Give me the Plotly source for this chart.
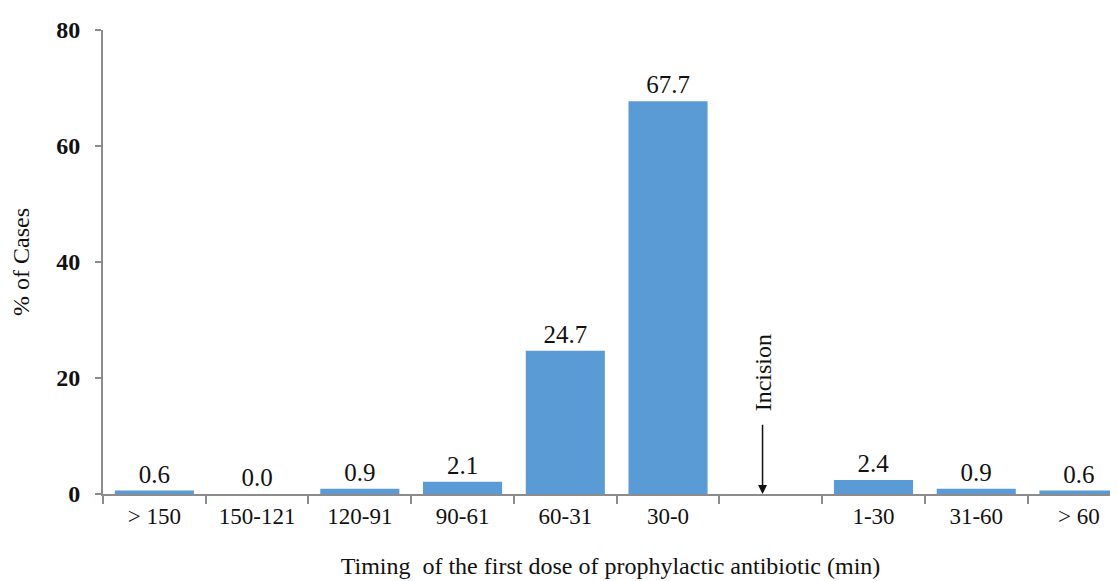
import plotly.graph_objects as go

categories = ["> 150", "150-121", "120-91", "90-61", "60-31", "30-0", " ", "1-30", "31-60", "> 60"]
values = [0.6, 0.0, 0.9, 2.1, 24.7, 67.7, None, 2.4, 0.9, 0.6]
labels = ["" if v is None else f"{v:.1f}" for v in values]
y_ticks = [0, 20, 40, 60, 80]

FONT = "Liberation Serif, Times New Roman, serif"
AXIS = "#8c8c8c"

fig = go.Figure()
fig.add_trace(go.Bar(
    x=categories, y=values, text=labels, textposition="outside",
    textfont=dict(family=FONT, size=25, color="#111"),
    marker=dict(color="#5B9BD5", line=dict(width=0)),
    width=0.77, cliponaxis=False,
))

fig.add_annotation(
    x=5.92, y=0, ax=5.92, ay=12.2, xref="x", yref="y", axref="x", ayref="y",
    showarrow=True, arrowhead=2, arrowsize=1.2, arrowwidth=1.5, arrowcolor="#111", text="",
)
fig.add_annotation(
    x=5.92, y=20.9, xref="x", yref="y", text="Incision", textangle=-90,
    showarrow=False, font=dict(family=FONT, size=24, color="#111"),
)

fig.update_layout(
    width=1110, height=573,
    margin=dict(l=95, r=0, t=22, b=87),
    paper_bgcolor="white", plot_bgcolor="white",
    showlegend=False,
    font=dict(family=FONT, color="#111"),
)
fig.update_xaxes(
    type="category", categoryorder="array", categoryarray=categories,
    range=[-0.5, 9.38], tickson="boundaries",
    showline=True, linecolor=AXIS, linewidth=2,
    ticks="outside", ticklen=8, tickwidth=2, tickcolor=AXIS,
    tickfont=dict(family=FONT, size=23, color="#111"),
    showgrid=False,
    title=dict(text="Timing  of the first dose of prophylactic antibiotic (min)",
               font=dict(family=FONT, size=24, color="#111"), standoff=30),
)
fig.update_yaxes(
    range=[0, 80], tickvals=y_ticks,
    showline=True, linecolor=AXIS, linewidth=2,
    ticks="outside", ticklen=6, tickwidth=2, tickcolor=AXIS,
    tickfont=dict(family=FONT, size=24, color="#111", weight="bold"),
    ticklabelstandoff=10,
    showgrid=False, zeroline=False,
    title=dict(text="% of Cases", font=dict(family=FONT, size=24, color="#111"), standoff=20),
)

fig.write_html("out.html")
